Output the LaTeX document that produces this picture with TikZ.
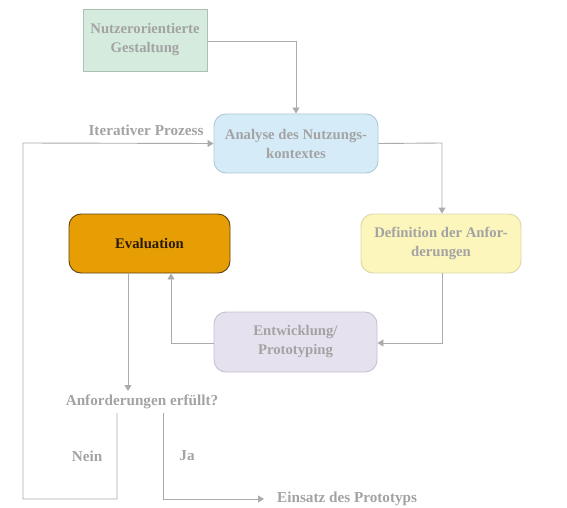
\documentclass[tikz,border=0pt]{standalone}
\usepackage{fontspec}
\setmainfont{Liberation Serif}
\usetikzlibrary{arrows.meta}
\definecolor{txtgray}{HTML}{A3A3A3}
\definecolor{linegray}{HTML}{ABABAB}
\definecolor{greenfill}{HTML}{D4EBDD}
\definecolor{greenline}{HTML}{AEBFB4}
\definecolor{bluefill}{HTML}{D5ECF8}
\definecolor{blueline}{HTML}{AFC8D6}
\definecolor{yellowfill}{HTML}{FCF5BC}
\definecolor{yellowline}{HTML}{DCD6A8}
\definecolor{lavfill}{HTML}{E6E1EF}
\definecolor{lavline}{HTML}{C6C0D0}
\definecolor{orangefill}{HTML}{E79E05}
\definecolor{orangeline}{HTML}{5E4313}
\definecolor{evaltext}{HTML}{2B1A05}
\tikzset{
  box/.style={draw, line width=0.9pt, align=center, font=\bfseries\fontsize{14.7}{19}\selectfont, text=txtgray, inner sep=0pt},
  rbox/.style={box, rounded corners=12pt},
  conn/.style={draw=linegray, line width=0.9pt},
  arr/.style={conn, -{Triangle[width=7pt,length=6pt]}},
  lbl/.style={font=\bfseries\fontsize{15.2}{19}\selectfont, text=txtgray, inner sep=0pt}
}
\begin{document}
\begin{tikzpicture}[x=1pt,y=-1pt]
\useasboundingbox (0,0) rectangle (567,508);
\node[box, fill=greenfill, draw=greenline, minimum width=124pt, minimum height=62pt] (nutzer) at (145,40) {Nutzerorientierte\\Gestaltung};
\node[rbox, fill=bluefill, draw=blueline, minimum width=164pt, minimum height=59pt] (analyse) at (296,143.5) {Analyse des Nutzungs-\\kontextes};
\node[rbox, fill=yellowfill, draw=yellowline, minimum width=160pt, minimum height=59pt] (def) at (441,243.5) {Definition der Anfor-\\derungen};
\node[rbox, fill=orangefill, draw=orangeline, text=evaltext, minimum width=161pt, minimum height=59pt] (eval) at (149.5,243.5) {Evaluation};
\node[rbox, fill=lavfill, draw=lavline, minimum width=163pt, minimum height=60pt] (entw) at (295.5,342) {Entwicklung/\\Prototyping};
\node[lbl] (iter) at (146,130) {Iterativer Prozess};
\node[lbl] (frage) at (142,402) {Anforderungen erfüllt?};
\node[lbl] (nein) at (87,456) {Nein};
\node[lbl] (ja) at (187,456) {Ja};
\node[lbl, anchor=west] (einsatz) at (277,499) {Einsatz des Prototyps};
\coordinate (nutzerR) at (nutzer.east |- 0,41);
\coordinate (nutzerK) at (296,41);
\draw[arr] (nutzerR) -- (nutzerK) -- (analyse.north);
\coordinate (defK) at (442,143);
\draw[arr] (analyse.east) -- (defK) -- (defK |- def.north);
\coordinate (defK2) at (442,343);
\draw[arr] (defK |- def.south) -- (defK2) -- (entw.east |- defK2);
\coordinate (entwK) at (171,343);
\draw[arr] (entw.west |- defK2) -- (entwK) -- (entwK |- eval.south);
\coordinate (evalB) at (128,273);
\coordinate (frageT) at (128,391);
\draw[arr] (evalB) -- (frageT);
\coordinate (neinT) at (117,413);
\coordinate (neinB) at (117,499);
\coordinate (neinL) at (23,499);
\coordinate (iterL) at (23,143);
\draw[arr] (neinT) -- (neinB) -- (neinL) -- (iterL) -- (analyse.west);
\coordinate (jaT) at (163,413);
\coordinate (jaB) at (163,499);
\draw[arr, shorten >=13pt] (jaT) -- (jaB) -- (einsatz.west);
\end{tikzpicture}
\end{document}
